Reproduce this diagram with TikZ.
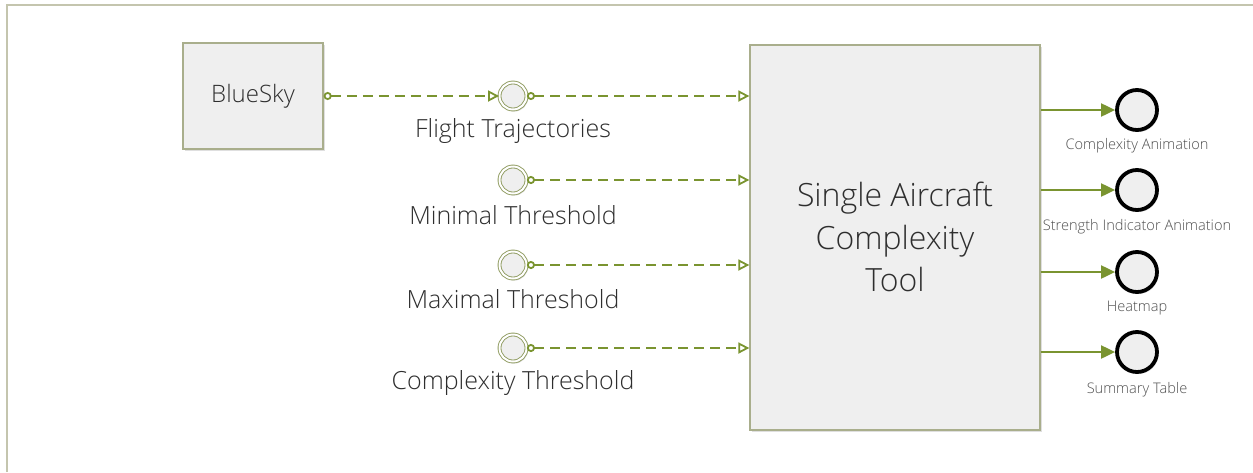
\documentclass[tikz,border=0pt]{standalone}
\usepackage{fontspec}
\setmainfont{Open Sans}[UprightFont={* Light}]
\usetikzlibrary{arrows.meta,shadows}
\definecolor{frame}{HTML}{C4C5AE}
\definecolor{boxline}{HTML}{A9AE8C}
\definecolor{boxfill}{HTML}{EFEFEF}
\definecolor{conn}{HTML}{7A9430}
\definecolor{incirc}{HTML}{8E9A5E}
\definecolor{txt}{HTML}{2E2E2E}
\definecolor{smalltxt}{HTML}{505050}
\tikzset{
  procbox/.style={draw=boxline, line width=1.3pt, fill=boxfill, inner sep=0pt,
     drop shadow={shadow xshift=2pt, shadow yshift=-2pt, opacity=0.25, fill=gray}},
  inevent/.style={circle, draw=incirc, line width=0.9pt, double=white, double distance=2pt,
     fill=boxfill, minimum size=27pt, inner sep=0pt,
     drop shadow={shadow xshift=1.5pt, shadow yshift=-2pt, opacity=0.25, fill=gray}},
  outevent/.style={circle, draw=black, line width=3.8pt, fill=boxfill, minimum size=40pt, inner sep=0pt,
     drop shadow={shadow xshift=1.5pt, shadow yshift=-2pt, opacity=0.25, fill=gray}},
  inlabel/.style={font=\fontsize{25}{27}\selectfont, text=txt},
  outlabel/.style={font=\fontsize{14.6}{16}\selectfont, text=smalltxt},
  dataflow/.style={draw=conn, line width=1.8pt, dash pattern=on 10pt off 6pt,
     {Circle[open,length=8pt,width=8pt]}-{Triangle[open,length=11pt,width=11pt]}},
  outflow/.style={draw=conn, line width=2pt, -{Triangle[length=14pt,width=13pt]}},
}
\begin{document}
\begin{tikzpicture}[x=1pt,y=-1pt]
\useasboundingbox (0,0) rectangle (1253,472);
\fill[white] (0,0) rectangle (1253,472);
% frame
\draw[frame, line width=2pt] (7,472) -- (7,4.5) -- (1253,4.5);
% boxes
\node[procbox, minimum width=140pt, minimum height=106pt] (bs) at (253,96) {};
\node[text=txt, font=\fontsize{24}{26}\selectfont] at (bs.center) {BlueSky};
\node[procbox, minimum width=290pt, minimum height=385pt] (sact) at (895,237.5) {};
\node[align=center, text=txt, font=\fontsize{32}{42.5}\selectfont] at (895,237) {Single Aircraft\\Complexity\\Tool};
% input events
\node[inevent] (ft) at (513,96) {};
\node[inevent] (mt) at (513,180) {};
\node[inevent] (xt) at (513,265) {};
\node[inevent] (ct) at (513,348) {};
\node[inlabel] at (513,131) {Flight Trajectories};
\node[inlabel] at (513,215) {Minimal Threshold};
\node[inlabel] at (513,299) {Maximal Threshold};
\node[inlabel] at (513,383) {Complexity Threshold};
% output events
\node[outevent] (ca) at (1137,110) {};
\node[outevent] (si) at (1137,190) {};
\node[outevent] (hm) at (1137,272) {};
\node[outevent] (st) at (1137,352) {};
\node[outlabel] at (1137,145.5) {Complexity Animation};
\node[outlabel] at (1137,226.5) {Strength Indicator Animation};
\node[outlabel] at (1137,308.5) {Heatmap};
\node[outlabel] at (1137,389.5) {Summary Table};
% connectors
\draw[dataflow] (bs.east) -- (ft.west);
\draw[dataflow] (ft.east) -- (ft.east -| sact.west);
\draw[dataflow] (mt.east) -- (mt.east -| sact.west);
\draw[dataflow] (xt.east) -- (xt.east -| sact.west);
\draw[dataflow] (ct.east) -- (ct.east -| sact.west);
\draw[outflow] (ca.west -| sact.east) -- (ca.west);
\draw[outflow] (si.west -| sact.east) -- (si.west);
\draw[outflow] (hm.west -| sact.east) -- (hm.west);
\draw[outflow] (st.west -| sact.east) -- (st.west);
\end{tikzpicture}
\end{document}
